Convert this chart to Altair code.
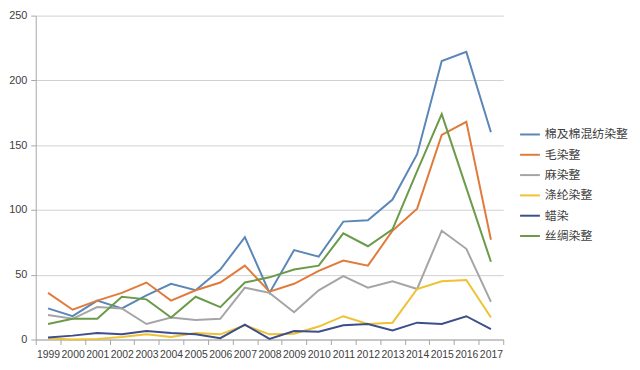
import altair as alt
import pandas as pd

years = [str(y) for y in range(1999, 2018)]
series_names = ["棉及棉混纺染整", "毛染整", "麻染整", "涤纶染整", "蜡染", "丝绸染整"]
colors = ["#5B86B8", "#E07B3C", "#A5A5A5", "#EEC232", "#3D4F8A", "#6B9A48"]

cotton = [24, 18, 30, 24, 34, 43, 38, 54, 79, 36, 69, 64, 91, 92, 108, 143, 215, 222, 160]
wool = [36, 23, 30, 36, 44, 30, 38, 44, 57, 37, 43, 53, 61, 57, 84, 101, 158, 168, 77]
linen = [19, 16, 25, 24, 12, 17, 15, 16, 40, 36, 21, 38, 49, 40, 45, 39, 84, 70, 29]
polyester = [1, 0, 0.5, 2, 4, 2, 5, 4, 11, 4, 4.5, 10, 18, 12, 13, 39, 45, 46, 17]
batik = [1.5, 3, 5, 4, 6.5, 5, 4, 1, 11.5, 0.5, 6.5, 6, 11, 12, 7, 13, 12, 18, 8]
silk = [12, 16, 16, 33, 31, 17, 33, 25, 44, 48, 54, 57, 82, 72, 85, 130, 174, 117, 60]

all_vals = [cotton, wool, linen, polyester, batik, silk]
rows = []
for name, vals in zip(series_names, all_vals):
    for y, v in zip(years, vals):
        rows.append({"year": y, "series": name, "value": v})
df = pd.DataFrame(rows)

chart = alt.Chart(df).mark_line(strokeWidth=2).encode(
    x=alt.X("year:O", sort=years, bandPosition=0.5,
            scale=alt.Scale(type="band", paddingInner=0, paddingOuter=0),
            axis=alt.Axis(title=None, labelAngle=0, tickBand="extent", grid=False,
                          labelOverlap=False,
                          labelFont="Liberation Sans", labelFontSize=10.5, labelColor="#404040",
                          domainColor="#A6A6A6", tickColor="#A6A6A6", tickSize=5, labelPadding=5)),
    y=alt.Y("value:Q", scale=alt.Scale(domain=[0, 250], nice=False),
            axis=alt.Axis(title=None, values=[0, 50, 100, 150, 200, 250], gridColor="#D0D0D0",
                          labelFont="Liberation Sans", labelFontSize=11, labelColor="#404040",
                          domainColor="#A6A6A6", tickColor="#A6A6A6", tickSize=5, labelPadding=4)),
    color=alt.Color("series:N", sort=series_names,
                    scale=alt.Scale(domain=series_names, range=colors),
                    legend=alt.Legend(title=None, orient="none", legendX=488, legendY=109,
                                      symbolType="stroke", symbolSize=400, symbolStrokeWidth=2,
                                      labelFont="Noto Sans CJK SC", labelFontSize=12,
                                      labelColor="#404040", rowPadding=3.5, labelOffset=4,
                                      labelLimit=200)),
).properties(
    width=472, height=327,
    autosize=alt.AutoSizeParams(type="none"),
    padding={"left": 28, "top": 6, "right": 130, "bottom": 21},
).configure_view(stroke=None)

chart.save("out.html", embed_options={"renderer": "svg", "actions": False})
